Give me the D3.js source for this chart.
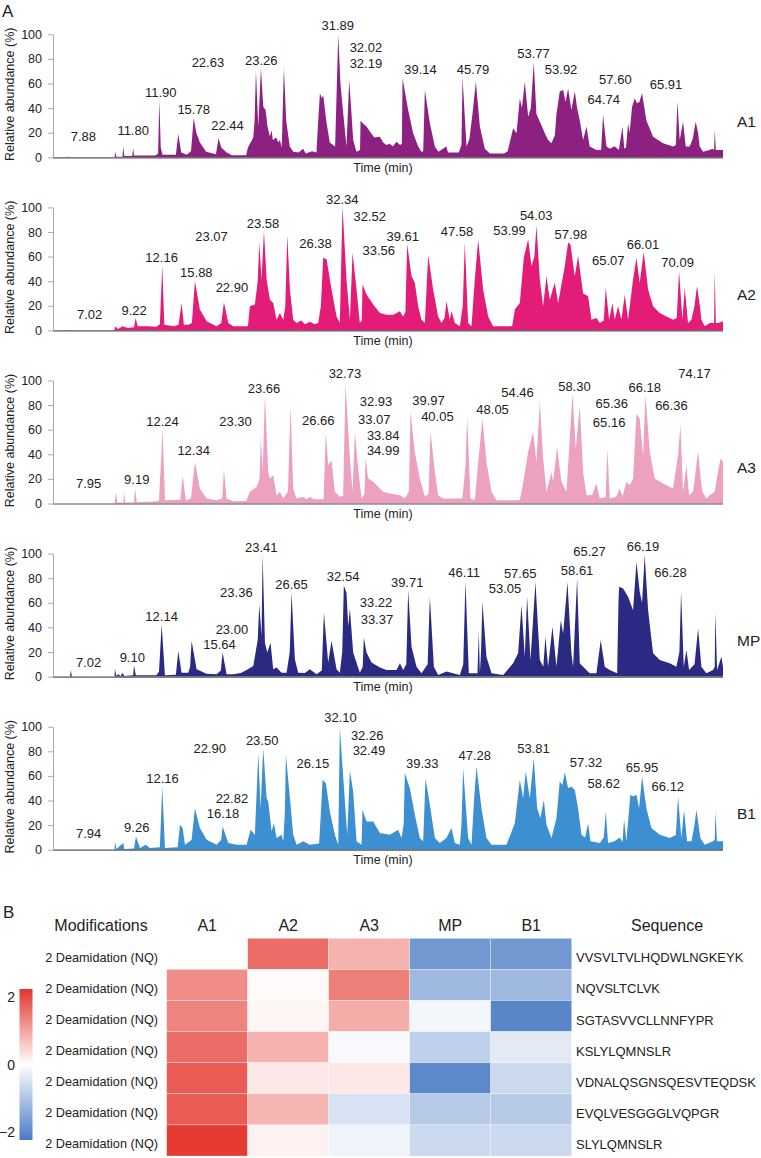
<!DOCTYPE html>
<html><head><meta charset="utf-8">
<script src="https://cdn.jsdelivr.net/npm/d3@7"></script>
<style>
body{margin:0;background:#fff}
svg{display:block}
text{font-family:"Liberation Sans",Arial,sans-serif;fill:#222}
</style>
</head><body>
<svg id="c" width="761" height="1158"></svg>
<script>
// ---------------- DATA ----------------
const timeMax = 75.2;
const yTicks = [0, 20, 40, 60, 80, 100];
const sampleNames = ["A1", "A2", "A3", "MP", "B1"];

// chromatogram traces: [time (min), relative abundance (%)]
const traceA1 = [[0,0],[1.5,0],[1.6,0.6],[1.7,0],[6.8,0],[6.9,4.6],[7.0,0.5],[7.7,0.5],[7.8,8.7],[7.9,1],[8.8,1],[8.9,7.3],[9.0,1.5],[10,1.5],[11.4,1.4],[11.7,3],[11.84,46.6],[12.0,8],[12.2,2],[13.7,2],[13.97,19],[14.3,4],[14.9,2],[15.4,5],[15.7,31.7],[16.0,20],[16.4,12],[17.1,4.6],[18.2,2.5],[18.5,15.4],[18.8,8],[19.4,4],[20,1.6],[21.6,1.6],[21.8,8],[22.1,12],[22.4,16],[22.55,30],[22.7,70.5],[22.96,25],[23.26,72.4],[23.52,41],[23.78,38.5],[24.0,25],[24.27,17],[24.46,22],[24.6,14],[25.0,16],[25.2,12],[25.4,14],[25.6,8],[25.84,72.9],[26.1,30],[26.5,8.7],[26.9,4.6],[27.5,4],[28.0,7],[28.3,3],[29.0,5],[29.5,4],[29.7,30],[29.89,52],[30.1,48],[30.26,50.7],[30.6,30],[31.0,12],[31.6,8.7],[31.95,99.5],[32.2,60],[32.51,35.8],[32.88,8.7],[33.18,62.9],[33.4,40],[33.63,14],[34.0,4.6],[34.4,6],[34.46,29.8],[34.8,27],[35.13,25],[35.51,21],[36.0,16],[36.63,16.8],[37.0,12],[37.38,10],[37.7,11],[38.1,9],[38.5,12.7],[38.9,10],[39.1,11],[39.18,64.2],[39.81,38.5],[40.37,19.5],[40.94,8.7],[41.3,4.6],[41.5,5],[41.69,54.7],[42.25,27.6],[42.81,8.7],[43.2,4.6],[44.1,8.7],[44.3,4],[45.5,4],[45.8,10],[45.92,64.8],[46.2,30],[46.37,8.7],[46.7,15],[47.04,35.2],[47.42,61.5],[47.87,25],[48.43,7],[49,3],[50.6,3],[51.0,5],[51.61,23.6],[51.99,19.5],[52.36,48],[52.6,40],[52.92,61.5],[53.3,33],[53.6,40],[53.93,77],[54.23,35.2],[54.79,26],[55.17,19.5],[55.54,14],[55.92,11.4],[56.3,18],[56.48,35.2],[56.85,53.4],[57.23,54.7],[57.5,45],[57.79,56],[58.16,38.5],[58.54,53.4],[58.8,40],[59.10,30],[59.48,14],[59.85,25],[60.22,8.7],[60.97,6],[61.5,6],[61.72,34.4],[62.10,8.7],[62.5,7],[63,9],[63.5,6],[63.90,25],[64.1,7],[64.3,8],[64.53,27.6],[64.7,20],[64.98,41],[65.28,48],[65.54,44],[65.8,45],[66.10,52],[66.59,30],[67.34,16.8],[68.46,11.4],[69.59,8.7],[69.9,10],[70.07,45.3],[70.34,14],[70.71,29],[71.01,8.7],[71.46,8.7],[71.8,15],[72.13,29],[72.4,20],[72.58,8.7],[72.96,4.6],[73.7,6],[74.0,7],[74.2,6],[74.27,22],[74.4,6],[75.2,6]];

const traceA2 = [[0,0],[1.8,0],[1.9,0.6],[2.0,0],[6.8,0],[6.85,3.3],[7.2,1.1],[7.7,3.3],[8.3,1.9],[9.0,2.5],[9.18,10],[9.4,3.3],[10.5,3.3],[11.5,3],[11.9,5],[12.17,52.9],[12.4,4.6],[13.5,3.3],[14.0,4.5],[14.34,22.3],[14.6,4.6],[15.1,4.6],[15.5,6],[15.84,40],[16.40,16.9],[17.15,7.4],[18.28,3.3],[18.8,6],[19.10,22.9],[19.59,6],[20.15,3.3],[21.8,3.3],[22.02,19.6],[22.58,21],[22.9,40],[23.07,71.4],[23.33,41.4],[23.60,80.9],[23.90,41.4],[24.27,25],[24.64,22.3],[25.02,8.7],[25.39,14.2],[25.77,8.7],[26.0,20],[26.22,77.4],[26.52,33.2],[26.89,8.7],[27.27,6],[27.8,8],[28.2,5],[28.8,7],[29.3,5],[29.7,6],[30.0,20],[30.26,59.1],[30.64,57.8],[31.20,33.2],[31.76,11.4],[32.13,6],[32.43,100.5],[32.88,41.4],[33.26,8.7],[33.56,63.2],[34.01,33.2],[34.38,6],[34.6,8],[34.68,37.3],[35.13,29.2],[35.88,21],[36.63,14.2],[37.38,12.8],[38.13,12.8],[38.88,15.5],[39.25,11.4],[39.5,15],[39.70,70],[40.19,44.1],[40.56,38.7],[40.94,19.5],[41.31,8.7],[41.69,6],[42.06,61],[42.62,33.2],[43.18,11.4],[43.56,6],[43.9,10],[44.12,23.7],[44.49,8.7],[44.68,15.5],[45.06,6],[45.62,3.3],[45.95,20],[46.18,71.4],[46.55,6],[46.93,3.3],[47.30,41.4],[47.68,73.6],[48.24,33.2],[48.80,11.4],[49.36,3.3],[51.5,3.3],[51.80,16.9],[52.36,22.3],[52.81,59.1],[53.30,74.1],[53.67,52.3],[54.0,60],[54.23,85],[54.61,41.4],[54.98,19.6],[55.36,44.1],[55.73,25],[56.29,38.7],[56.67,22.3],[57.42,52.3],[57.79,71.4],[58.05,70],[58.54,44.1],[58.91,60.5],[59.48,30],[60.04,27.8],[60.41,8.7],[60.97,10],[61.35,6],[61.8,8],[62.02,34.6],[62.40,8.7],[62.77,22],[63.03,8.7],[63.41,19.6],[63.78,8.7],[64.16,29],[64.53,8.7],[65.09,41.4],[65.47,59.1],[65.84,38.7],[66.29,63.8],[66.78,33.2],[67.34,19.6],[68.09,14.2],[68.84,11.4],[69.59,8.7],[70.0,10],[70.26,48.2],[70.64,8.7],[70.90,34.6],[71.27,6],[71.65,8.7],[72.0,20],[72.28,36],[72.6,20],[72.77,8.7],[73.15,3.3],[73.71,6],[74.2,6],[74.27,48],[74.4,6],[74.64,6],[75.2,7.4]];

const traceA3 = [[0,0],[6.8,0],[6.97,9.5],[7.1,0.8],[7.8,0.8],[7.87,9.5],[8.0,0.8],[8.54,0.8],[9.0,1],[9.10,12.7],[9.3,1],[10.8,1.4],[11.8,2],[12.21,60.3],[12.47,2.7],[14.2,3],[14.46,22.4],[14.83,2.7],[15.4,4],[15.84,33.8],[16.40,12.2],[17.15,4.1],[18.28,2.7],[18.9,4],[19.10,27.6],[19.40,4.1],[20.15,1.9],[21.6,2],[22.02,9.5],[22.77,13.5],[23.1,20],[23.26,54],[23.45,25.7],[23.71,88.4],[24.08,25.7],[24.27,20.3],[24.64,23],[25.02,6.8],[25.39,9.5],[25.77,4.1],[26.3,10],[26.59,79.2],[26.89,12.2],[27.27,4.1],[28.01,5.4],[28.4,3.5],[28.76,5.4],[29.2,3.5],[30.3,3.5],[30.56,58],[30.82,31.1],[31.20,35.1],[31.57,9.5],[32.13,5.4],[32.5,6],[32.77,97.3],[33.26,36.5],[33.56,9.5],[33.82,58],[34.19,28.4],[34.57,4.1],[34.9,8],[35.02,36.5],[35.32,20.3],[35.88,17.6],[36.63,12.2],[37.0,9.5],[37.75,8.1],[38.88,6.8],[39.44,4.1],[39.9,10],[40.07,74.3],[40.56,41.9],[41.12,20.3],[41.69,5.4],[42.1,8],[42.32,58.6],[42.81,25.7],[43.18,6.8],[43.75,4.1],[44.87,4.1],[45.9,4],[46.25,30],[46.44,70.3],[46.82,4.1],[47.30,2.7],[47.79,41.9],[48.16,69],[48.61,33.8],[49.18,9.5],[49.74,2.7],[52.36,2.7],[52.73,16.2],[53.30,42],[53.86,58.1],[54.23,33.8],[54.61,83],[54.98,36.5],[55.36,9.5],[55.92,25.7],[56.10,17.6],[56.55,46],[57.04,17.6],[57.60,9.5],[57.98,52.7],[58.28,89.2],[58.65,44.6],[59.10,79.7],[59.48,25.7],[59.85,6.8],[60.5,7],[60.97,16.2],[61.35,4.1],[62.0,5],[62.21,44.6],[62.47,4.1],[63.2,5.4],[63.60,12.2],[63.9,5.4],[64.34,17.6],[64.72,14.9],[65.09,20],[65.47,73],[65.84,68.9],[66.22,39.2],[66.48,87.8],[66.97,41.9],[67.53,20.3],[68.46,16.2],[69.59,12.2],[70.15,39.2],[70.41,64.1],[70.71,9.5],[71.09,31.1],[71.39,6.8],[71.84,9.5],[72.1,25],[72.40,42.4],[72.7,20],[72.88,9.5],[73.33,4.1],[73.71,6.8],[74.27,9.5],[74.64,25.7],[74.91,36.5],[75.2,33.8]];

const traceMP = [[0,0],[1.8,0],[1.9,5.4],[2.0,0],[6.8,0],[6.85,6.5],[7.0,0.5],[7.2,1.9],[7.5,0.5],[7.72,3.2],[7.9,0.5],[8.9,1],[8.99,9.2],[9.2,1.1],[10.0,1.1],[11.5,1.1],[11.8,4],[12.10,42.4],[12.47,1.1],[13.7,1.5],[13.97,20.8],[14.34,3.2],[15.09,3.2],[15.3,8],[15.47,28.9],[16.03,5.9],[17.15,2.4],[18.28,1.9],[18.75,5],[18.95,19.5],[19.40,1.9],[20.15,1.9],[21.0,3],[21.65,5.4],[22.40,8.6],[22.9,30],[23.07,58.6],[23.33,33],[23.45,99.2],[23.71,27.6],[23.97,19.5],[24.34,27.6],[24.64,5.9],[25.02,7.3],[25.58,3.2],[26.14,3.2],[26.5,20],[26.70,68.1],[27.08,14],[27.45,3.2],[28.2,3],[28.76,5.9],[29.51,1.9],[30.1,5],[30.34,51.9],[30.82,11.4],[31.20,28.9],[31.76,5.9],[32.13,3.2],[32.4,20],[32.58,74],[32.88,68.1],[33.07,41],[33.26,55.1],[33.63,19.5],[34.38,3.2],[34.7,8],[34.83,31.6],[35.13,19.5],[35.69,11.4],[36.63,7.3],[37.38,5.4],[38.50,5.4],[38.88,10.8],[39.25,5.4],[39.6,10],[39.81,70.3],[40.19,24.3],[40.75,8.1],[41.31,2.7],[42.0,10],[42.25,64.9],[42.70,8.1],[43.18,1.4],[44.12,4.1],[45.62,1.4],[46.0,10],[46.25,77.6],[46.63,2.7],[47.60,2.7],[47.75,36.5],[47.87,2.7],[48.0,20],[48.16,60.8],[48.61,16.2],[49.18,2.7],[50.49,1.4],[51.61,10.8],[52.17,18.9],[52.55,58.1],[52.92,16.2],[53.18,64.9],[53.56,13.5],[54.12,77],[54.61,13.5],[55.0,8],[55.24,32.4],[55.54,8.1],[56.03,40.5],[56.48,8.1],[56.97,45.9],[57.23,35.1],[57.72,77],[58.16,18.9],[58.35,8.1],[58.80,79.7],[59.10,10.8],[59.48,8.1],[60.22,2.7],[60.97,2.7],[61.46,29.7],[61.91,8.1],[62.47,5.4],[63.30,2.7],[63.45,60],[63.52,73],[63.97,71.6],[64.53,64.9],[65.09,54],[65.47,93.2],[65.84,68.9],[66.10,60],[66.40,98.6],[66.78,54],[67.34,18.9],[68.09,13.5],[69.21,10.8],[69.96,8.1],[70.3,20],[70.49,68.9],[70.79,8.1],[71.09,21.6],[71.39,5.4],[72.0,10],[72.40,39.2],[72.77,8.1],[73.33,2.7],[74.08,5.4],[74.27,8],[74.34,52.7],[74.53,5.4],[75.02,16.2],[75.2,8.1]];

const traceB1 = [[0,0],[6.8,0],[6.85,6.8],[7.0,0.5],[7.79,5.4],[7.9,0.5],[9.0,1],[9.21,10.8],[9.66,1.4],[10.30,4.1],[10.79,1.4],[11.9,2],[12.17,51.4],[12.47,1.4],[13.9,2],[14.16,20.3],[14.46,17.6],[14.72,4.1],[15.47,8.1],[15.84,33.8],[16.40,17.6],[17.15,8.1],[18.28,4.1],[18.8,8],[18.95,19],[19.59,5.4],[20.52,4.1],[21.65,4.1],[22.10,16.2],[22.58,12.2],[22.96,78.4],[23.22,33.8],[23.52,82.4],[23.90,41.9],[24.08,39.2],[24.46,14.9],[24.72,21.6],[25.02,9.5],[25.58,12.2],[25.77,6.8],[25.95,30],[26.07,77],[26.52,41.9],[26.89,12.2],[27.27,4.1],[28.01,6.8],[28.76,4.1],[29.8,5],[30.0,30],[30.19,56.8],[30.56,54.1],[31.01,31.1],[31.57,12.2],[31.95,4.1],[32.13,99.2],[32.70,39.2],[32.96,12.2],[33.26,64.1],[33.63,47.3],[34.01,6.8],[34.57,4.1],[34.68,32.4],[35.13,23],[35.88,23],[36.63,13.5],[37.75,12.2],[38.69,16.2],[39.06,9.5],[39.3,20],[39.44,62.2],[40.00,50],[40.56,28.4],[41.12,9.5],[41.50,6.8],[41.76,58.1],[42.25,36.5],[42.81,9.5],[43.37,5.4],[44.12,9.5],[44.68,17.6],[45.06,5.4],[45.62,4.1],[45.8,20],[45.99,66.2],[46.55,9.5],[46.93,4.1],[47.23,41.9],[47.49,67.6],[48.05,33.8],[48.61,9.5],[49.18,4.1],[50.86,4.1],[51.80,21.6],[52.36,56.8],[52.73,41.9],[53.03,63.5],[53.48,41.9],[53.93,74.3],[54.31,33.8],[54.68,25.7],[55.06,40.5],[55.36,20.3],[55.92,9.5],[56.48,25.7],[56.85,55.4],[57.15,52.7],[57.42,63],[57.79,50],[58.16,51.4],[58.54,48.6],[58.91,33.8],[59.29,12.2],[59.7,10],[60.04,21.6],[60.30,6.8],[61.35,5.4],[61.8,10],[62.02,31.1],[62.28,5.4],[63.0,6.8],[63.6,10],[63.90,6],[64.08,24.3],[64.34,6.8],[64.79,44.6],[65.09,43.2],[65.47,44.6],[65.77,33.8],[66.10,59.5],[66.59,33.8],[67.15,17.6],[68.09,12.2],[69.21,9.5],[69.9,12],[70.15,43.2],[70.52,9.5],[70.82,32.4],[71.16,6.8],[71.65,6.8],[72.0,20],[72.21,32.4],[72.66,9.5],[73.15,4.1],[74.08,6.8],[74.27,8],[74.34,31.1],[74.53,6.8],[75.2,6.8]];

// peak labels: [text, label time, label abundance]
const labelsA1 = [["7.88",3.3,16.7],["11.80",8.9,21.4],["11.90",12.0,52.8],["15.78",15.7,39],["22.44",19.5,25.7],["22.63",17.3,76.9],["23.26",23.3,78.5],["31.89",31.9,107],["32.02",35.06,88.9],["32.19",35.06,75.9],["39.14",41.2,71],["45.79",47.1,71],["53.77",53.9,84],["53.92",57.0,71],["57.60",63.1,63.4],["64.74",61.8,46.6],["65.91",68.8,58.8]];
const labelsA2 = [["7.02",4.0,12.8],["9.22",9.0,16.3],["12.16",12.1,59.1],["15.88",16.0,46.9],["22.90",20.0,34.6],["23.07",17.7,76.3],["23.58",23.5,86.9],["26.38",29.4,70.6],["32.34",32.4,106.8],["32.52",35.5,92.6],["33.56",36.5,64.6],["39.61",39.2,76.3],["47.58",45.3,80.4],["53.99",51.2,80.9],["54.03",54.2,93.2],["57.98",58.1,77.7],["65.07",62.3,57.2],["66.01",66.2,70],["70.09",70.1,55]];
const labelsA3 = [["7.95",3.9,16.2],["9.19",9.3,19.5],["12.24",12.2,66.8],["12.34",15.7,43],["23.30",20.4,67],["23.66",23.6,93.8],["26.66",29.7,67.6],["32.73",32.7,106],["32.93",36.2,83.2],["33.07",36.0,68.1],["33.84",37.0,55.4],["34.99",37.0,43.2],["39.97",42.1,83.8],["40.05",43.1,71.1],["48.05",49.3,76.2],["54.46",52.1,90.5],["58.30",58.5,95.1],["65.36",62.7,81],["65.16",62.4,65.7],["66.18",66.4,94.6],["66.36",69.4,79.7],["74.17",72.0,106]];
const labelsMP = [["7.02",3.9,11.4],["9.10",8.8,15.4],["12.14",12.1,49.2],["15.64",18.6,26.2],["23.00",20.0,38.4],["23.36",20.5,68.1],["23.41",23.3,104.6],["26.65",26.7,74.9],["32.54",32.5,81.1],["33.22",36.2,60.5],["33.37",36.3,46.5],["39.71",39.7,76.2],["46.11",46.1,84.3],["53.05",50.7,71.4],["57.65",52.4,83.5],["58.61",58.8,86.2],["65.27",60.2,101.9],["66.19",66.2,105.4],["66.28",69.3,84.3]];
const labelsB1 = [["7.94",3.9,13],["9.26",9.3,18.4],["12.16",12.2,57.6],["16.18",19.0,29.5],["22.82",20.0,41.4],["22.90",17.5,82.4],["23.50",23.4,88.6],["26.15",29.1,70.3],["32.10",32.2,107.6],["32.26",35.2,93.2],["32.49",35.4,81],["39.33",41.4,69.7],["47.28",47.3,76.2],["53.81",53.9,81.9],["57.32",59.8,71.1],["58.62",61.8,53.5],["65.95",66.1,67],["66.12",69.0,51.4]];

// heatmap
const heatCols = ["A1", "A2", "A3", "MP", "B1"];
const modifications = ["2 Deamidation (NQ)","2 Deamidation (NQ)","2 Deamidation (NQ)","2 Deamidation (NQ)","2 Deamidation (NQ)","2 Deamidation (NQ)","2 Deamidation (NQ)"];
const sequences = ["VVSVLTVLHQDWLNGKEYK","NQVSLTCLVK","SGTASVVCLLNNFYPR","KSLYLQMNSLR","VDNALQSGNSQESVTEQDSK","EVQLVESGGGLVQPGR","SLYLQMNSLR"];
const heatValues = [
  [null, 1.6, 0.85, -1.75, -1.75],
  [1.25, 0.05, 1.4, -1.2, -1.2],
  [1.35, 0.1, 0.9, -0.15, -2.05],
  [1.6, 0.85, -0.1, -0.8, -0.35],
  [1.8, 0.25, 0.25, -2.0, -0.65],
  [1.8, 0.8, -0.5, -0.9, -0.9],
  [2.15, 0.15, -0.2, -0.65, -0.65]
];
const legendTicks = [2, 0, -2];

// ---------------- STYLE ----------------
const traceColors = ["#8c2181", "#e31c78", "#eca1c1", "#2b2a83", "#3c8fd1"];
const FONT = '"Liberation Sans", Arial, sans-serif';

const traces = [traceA1, traceA2, traceA3, traceMP, traceB1];
const labels = [labelsA1, labelsA2, labelsA3, labelsMP, labelsB1];

const svg = d3.select("#c");
const x = d3.scaleLinear().domain([0, timeMax]).range([54, 723]);

svg.append("text").attr("x", 2).attr("y", 17).attr("font-size", 17).text("A");

traces.forEach((tr, i) => {
  const y0 = 157.3 + i * 173.1;
  const y = d3.scaleLinear().domain([0, 100]).range([y0, y0 - 123]);
  const g = svg.append("g");
  g.append("path").datum(tr)
    .attr("d", d3.area().x(d => x(d[0])).y0(y0).y1(d => y(d[1])))
    .attr("fill", traceColors[i]);
  g.append("line").attr("x1", 53).attr("x2", 723).attr("y1", y0 + 0.5).attr("y2", y0 + 0.5)
    .attr("stroke", "#555").attr("stroke-width", 1.2);
  const ag = g.append("g").attr("transform", "translate(53,0)")
    .call(d3.axisLeft(y).tickValues(yTicks).tickSize(5).tickSizeOuter(0).tickPadding(6));
  ag.attr("font-family", FONT).attr("font-size", 12.5);
  ag.select(".domain").attr("stroke", "#aaa");
  ag.selectAll(".tick line").attr("stroke", "#aaa");
  ag.selectAll(".tick text").attr("fill", "#222");
  g.append("text").attr("transform", `translate(13.5,${y0 - 63}) rotate(-90)`)
    .attr("text-anchor", "middle").attr("font-size", 12.5).text("Relative abundance (%)");
  g.append("text").attr("x", 383).attr("y", y0 + 14.5).attr("text-anchor", "middle")
    .attr("font-size", 12.5).text("Time (min)");
  g.append("text").attr("x", 737).attr("y", y0 - 36).attr("dominant-baseline", "central")
    .attr("font-size", 15.5).text(sampleNames[i]);
  g.selectAll("text.pk").data(labels[i]).join("text").attr("class", "pk")
    .attr("x", d => x(d[1])).attr("y", d => y(d[2]))
    .attr("text-anchor", "middle").attr("dominant-baseline", "central")
    .attr("font-size", 13).text(d => d[0]);
});

// ---------------- HEATMAP ----------------
svg.append("text").attr("x", 3).attr("y", 918).attr("font-size", 17).text("B");
const hx = d3.scaleBand().domain(heatCols).range([166.7, 571.7]);
const hy = d3.scaleBand().domain(d3.range(sequences.length)).range([938.3, 1156]);
const cmax = 2.24;
const color = d3.scaleLinear().domain([-cmax, 0, cmax]).range(["#4a7bc4", "#ffffff", "#e4332a"]).clamp(true);

const cells = [];
heatValues.forEach((row, r) => row.forEach((v, c) => { if (v !== null) cells.push({ r, c: heatCols[c], v }); }));
svg.append("g").selectAll("rect").data(cells).join("rect")
  .attr("x", d => hx(d.c)).attr("y", d => hy(d.r))
  .attr("width", hx.bandwidth()).attr("height", hy.bandwidth())
  .attr("fill", d => color(d.v)).attr("stroke", "#fff").attr("stroke-width", 0.5).attr("stroke-opacity", 0.6);

svg.append("g").selectAll("text").data(heatCols).join("text")
  .attr("x", d => hx(d) + hx.bandwidth() / 2).attr("y", 930.7).attr("text-anchor", "middle")
  .attr("font-size", 16).text(d => d);
svg.append("text").attr("x", 101).attr("y", 930.7).attr("text-anchor", "middle").attr("font-size", 16).text("Modifications");
svg.append("text").attr("x", 667).attr("y", 930.7).attr("text-anchor", "middle").attr("font-size", 16).text("Sequence");

svg.append("g").selectAll("text").data(modifications).join("text")
  .attr("x", 158).attr("y", (d, i) => hy(i) + hy.bandwidth() / 2 + 4).attr("dominant-baseline", "central")
  .attr("text-anchor", "end").attr("font-size", 12.7).text(d => d);
svg.append("g").selectAll("text").data(sequences).join("text")
  .attr("x", 576).attr("y", (d, i) => hy(i) + hy.bandwidth() / 2 + 4).attr("dominant-baseline", "central")
  .attr("font-size", 13).text(d => d);

// legend
const ly = d3.scaleLinear().domain([-cmax, cmax]).range([1140, 989]);
const defs = svg.append("defs");
const grad = defs.append("linearGradient").attr("id", "lg").attr("x1", 0).attr("y1", 1).attr("x2", 0).attr("y2", 0);
[-cmax, 0, cmax].forEach((v, i) => grad.append("stop").attr("offset", i / 2).attr("stop-color", color(v)));
svg.append("rect").attr("x", 19.5).attr("y", ly(cmax)).attr("width", 13).attr("height", ly(-cmax) - ly(cmax)).attr("fill", "url(#lg)");
svg.append("g").selectAll("text").data(legendTicks).join("text")
  .attr("x", 15).attr("y", d => ly(d)).attr("text-anchor", "end").attr("dominant-baseline", "central")
  .attr("font-size", 14).text(d => d < 0 ? "\u2212" + Math.abs(d) : d);
</script>
</body></html>
